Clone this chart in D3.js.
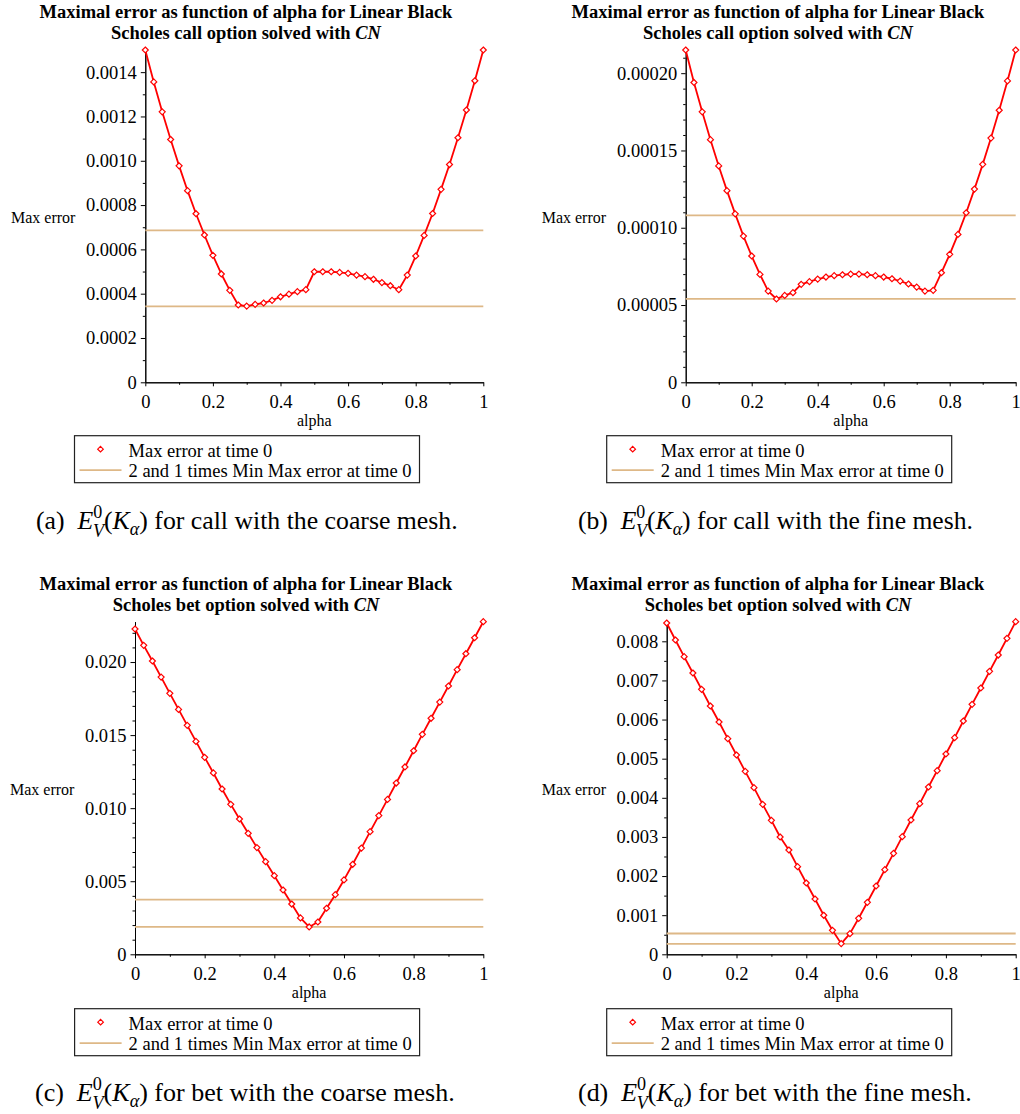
<!DOCTYPE html>
<html><head><meta charset="utf-8">
<script src="https://cdn.jsdelivr.net/npm/d3@7"></script>
<style>
body{margin:0;background:#fff}
svg{display:block}
svg text{font-family:"Liberation Serif","Times New Roman",serif;}
</style>
</head><body>
<svg id="c" width="1020" height="1114"></svg>
<script>
// ---------------- DATA ----------------
const alpha = [0,0.025,0.05,0.075,0.1,0.125,0.15,0.175,0.2,0.225,0.25,0.275,0.3,0.325,0.35,0.375,0.4,0.425,0.45,0.475,0.5,
  0.525,0.55,0.575,0.6,0.625,0.65,0.675,0.7,0.725,0.75,0.775,0.8,0.825,0.85,0.875,0.9,0.925,0.95,0.975,1];

const callCoarse = [0.0015,0.001356,0.001221,0.001096,0.000977,0.000865,0.000761,0.000665,0.000573,0.000489,0.000415,
  0.000349,0.000344,0.000352,0.000358,0.00037,0.000386,0.000398,0.000409,0.000418,0.000499,0.000499,0.000499,0.000496,
  0.000492,0.000484,0.000477,0.000465,0.00045,0.000436,0.000418,0.000484,0.00057,0.000663,0.000762,0.000871,0.000983,
  0.001104,0.001229,0.001361,0.0015];
const callFine = [0.000215,0.000194,0.000175,0.000157,0.00014,0.000124,0.000109,0.0000946,0.0000817,0.0000698,
  0.000059,0.0000539,0.0000562,0.000058,0.0000634,0.0000651,0.0000668,0.0000681,0.000069,0.0000696,
  0.00007,0.00007,0.0000696,0.000069,0.0000681,0.000067,0.0000655,0.0000636,0.0000616,0.000059,
  0.0000595,0.0000709,0.0000828,0.0000957,0.0001097,0.000125,0.000141,0.000158,0.000176,0.000195,0.000215];
const betCoarse = [0.02226,0.02114,0.02007,0.01897,0.01786,0.01676,0.01567,0.01457,0.01348,0.01241,0.01131,0.01026,
  0.00926,0.00828,0.0073,0.00634,0.00538,0.0044,0.00344,0.00249,0.00187,0.00221,0.00315,0.00408,0.00509,0.00616,
  0.00727,0.00839,0.00949,0.0106,0.01172,0.01282,0.01393,0.01505,0.01615,0.01726,0.01836,0.01948,0.02057,0.02166,0.02276];
const betFine = [0.008467,0.008033,0.007607,0.00719,0.006772,0.006346,0.005937,0.005511,0.005094,0.004676,0.004259,
  0.003833,0.003424,0.002998,0.002666,0.00224,0.001823,0.001414,0.000997,0.000613,0.000273,0.000528,0.00092,0.001329,
  0.001746,0.002164,0.002581,0.003007,0.003433,0.00385,0.004276,0.004693,0.005119,0.005537,0.005963,0.006389,0.006806,
  0.007232,0.007649,0.008075,0.008501];

// 2 and 1 times min max error
const callCoarseRef = [0.000686, 0.000343];
const callFineRef = [0.000108, 0.000054];
const betCoarseRef = [0.00374, 0.00187];
const betFineRef = [0.000532, 0.000266];

const xTicks = [0,0.2,0.4,0.6,0.8,1];
const xTickLabels = ["0","0.2","0.4","0.6","0.8","1"];
const xMinorTicks = [0.1,0.3,0.5,0.7,0.9];

const callCoarseTicks = [0,0.0002,0.0004,0.0006,0.0008,0.0010,0.0012,0.0014];
const callCoarseLabels = ["0","0.0002","0.0004","0.0006","0.0008","0.0010","0.0012","0.0014"];
const callFineTicks = [0,0.00005,0.00010,0.00015,0.00020];
const callFineLabels = ["0","0.00005","0.00010","0.00015","0.00020"];
const betCoarseTicks = [0,0.005,0.010,0.015,0.020];
const betCoarseLabels = ["0","0.005","0.010","0.015","0.020"];
const betFineTicks = [0,0.001,0.002,0.003,0.004,0.005,0.006,0.007,0.008];
const betFineLabels = ["0","0.001","0.002","0.003","0.004","0.005","0.006","0.007","0.008"];

const titleLine1 = "Maximal error as function of alpha for Linear Black";
const legendLabels = ["Max error at time 0", "2 and 1 times Min Max error at time 0"];
const yLabel = "Max error";
const xLabel = "alpha";

// ---------------- LAYOUT ----------------
const panels = [
  {kind:"call", values:callCoarse, ref:callCoarseRef, ticks:callCoarseTicks, labels:callCoarseLabels, minorStep:0.0001,
   tag:"(a)", cap:" for call with the coarse mesh.", left:145.3, right:483.3, top:50, bottom:382.3, cx:246, off:0,
   yLabX:11, legX:74.5, capX:36, capW:422},
  {kind:"call", values:callFine, ref:callFineRef, ticks:callFineTicks, labels:callFineLabels, minorStep:0.00001,
   tag:"(b)", cap:" for call with the fine mesh.", left:685.7, right:1015.7, top:50, bottom:382.3, cx:778, off:0,
   yLabX:541.7, legX:606.7, capX:578, capW:395},
  {kind:"bet", values:betCoarse, ref:betCoarseRef, ticks:betCoarseTicks, labels:betCoarseLabels, minorStep:0.001,
   tag:"(c)", cap:" for bet with the coarse mesh.", left:135, right:483.3, top:621.7, bottom:954.3, cx:246, off:572,
   yLabX:10, legX:74.6, capX:35, capW:420},
  {kind:"bet", values:betFine, ref:betFineRef, ticks:betFineTicks, labels:betFineLabels, minorStep:0.0005,
   tag:"(d)", cap:" for bet with the fine mesh.", left:666.7, right:1015.7, top:621.7, bottom:954.3, cx:778, off:572,
   yLabX:541.7, legX:606.7, capX:578, capW:394}
];

const svg = d3.select("#c");
svg.append("rect").attr("width",1020).attr("height",1114).attr("fill","#fff");
const RED = "#ff0000", TAN = "#deb887";
const diamond = r => `M0,${-r}L${r},0L0,${r}L${-r},0Z`;

panels.forEach(p => {
  const g = svg.append("g");
  const x = d3.scaleLinear().domain([0,1]).range([p.left,p.right]);
  const ymax = d3.max(p.values);
  const y = d3.scaleLinear().domain([0,ymax]).range([p.bottom,p.top]);

  // title
  g.append("text").attr("x",p.cx).attr("y",18.3+p.off).attr("text-anchor","middle")
    .attr("font-weight","bold").attr("font-size",18.5).text(titleLine1);
  const t2 = g.append("text").attr("x",p.cx).attr("y",39.3+p.off).attr("text-anchor","middle")
    .attr("font-weight","bold").attr("font-size",18.5);
  t2.append("tspan").text(`Scholes ${p.kind} option solved with `);
  t2.append("tspan").attr("font-style","italic").text("CN");

  // minor ticks
  const minorY = d3.range(0, ymax + 1e-12, p.minorStep).filter(v => !p.ticks.some(t => Math.abs(t-v) < p.minorStep*0.01) && v < ymax*0.999);
  const ax = [];
  ax.push(g.append("g").attr("transform",`translate(${p.left},0)`)
    .call(d3.axisLeft(y).tickValues(minorY).tickFormat("").tickSize(2.5).tickSizeOuter(0)));
  ax.push(g.append("g").attr("transform",`translate(0,${p.bottom})`)
    .call(d3.axisBottom(x).tickValues(xMinorTicks).tickFormat("").tickSize(2.5).tickSizeOuter(0)));
  ax.push(g.append("g").attr("transform",`translate(${p.left},0)`)
    .call(d3.axisLeft(y).tickValues(p.ticks).tickFormat((d,i)=>p.labels[i]).tickSize(4.5).tickPadding(4).tickSizeOuter(0)));
  ax.push(g.append("g").attr("transform",`translate(0,${p.bottom})`)
    .call(d3.axisBottom(x).tickValues(xTicks).tickFormat((d,i)=>xTickLabels[i]).tickSize(4).tickPadding(9).tickSizeOuter(0)));
  ax.forEach(a => {
    a.attr("font-family",null).attr("font-size",18.5);
    a.selectAll("path,line").attr("stroke","#000").attr("stroke-width",1);
    a.selectAll("text").attr("fill","#000");
  });

  // reference lines
  g.selectAll(".ref").data(p.ref).join("line")
    .attr("x1",x(0)).attr("x2",x(1)).attr("y1",d=>y(d)).attr("y2",d=>y(d))
    .attr("stroke",TAN).attr("stroke-width",1.8);

  // data line
  const pts = alpha.map((a,i)=>[a,p.values[i]]);
  g.append("path").datum(pts).attr("fill","none").attr("stroke",RED).attr("stroke-width",1.8)
    .attr("stroke-linejoin","round")
    .attr("d", d3.line().x(d=>x(d[0])).y(d=>y(d[1])));
  g.selectAll(".mk").data(pts).join("path")
    .attr("transform",d=>`translate(${x(d[0])},${y(d[1])})`)
    .attr("d",diamond(3)).attr("fill","#fff").attr("stroke",RED).attr("stroke-width",1.2);

  // axis labels
  g.append("text").attr("x",p.yLabX).attr("y",222.7+p.off).attr("font-size",16).text(yLabel);
  g.append("text").attr("x",(p.left+p.right)/2).attr("y",425.5+p.off).attr("text-anchor","middle")
    .attr("font-size",16).text(xLabel);

  // legend
  const ly = 435.7 + p.off + (p.off ? 1 : 0);
  const lg = g.append("g").attr("transform",`translate(${p.legX},${ly})`);
  lg.append("rect").attr("x",0).attr("y",0).attr("width",345).attr("height",47)
    .attr("fill","#fff").attr("stroke","#222").attr("stroke-width",1.2);
  lg.append("path").attr("transform","translate(26,13.5)").attr("d",diamond(2.8))
    .attr("fill","#fff").attr("stroke",RED).attr("stroke-width",1.2);
  lg.append("line").attr("x1",5).attr("x2",47).attr("y1",34.5).attr("y2",34.5).attr("stroke",TAN).attr("stroke-width",1.8);
  lg.selectAll(".lt").data(legendLabels).join("text").attr("x",54).attr("y",(d,i)=>21.5+i*20)
    .attr("font-size",18.5).text(d=>d);

  // caption
  const capY = p.off ? 1101 : 529;
  const cap = g.append("text").attr("x",p.capX).attr("y",capY);
  function buildCap(s) {
    cap.selectAll("*").remove();
    cap.attr("font-size",s);
    cap.append("tspan").text(p.tag + "\u2002");
    cap.append("tspan").attr("font-style","italic").text("E");
    cap.append("tspan").attr("font-size",s*0.7).attr("dy",-s*0.42).text("0");
    cap.append("tspan").attr("font-size",s*0.7).attr("font-style","italic").attr("dx",-s*0.36).attr("dy",s*0.72).text("V");
    cap.append("tspan").attr("dy",-s*0.30).text("(");
    cap.append("tspan").attr("font-style","italic").text("K");
    cap.append("tspan").attr("font-size",s*0.7).attr("font-style","italic").attr("dy",s*0.22).text("\u03b1");
    cap.append("tspan").attr("dy",-s*0.22).text(")");
    cap.append("tspan").text(p.cap);
  }
  buildCap(20);
  const w = cap.node().getBBox().width;
  buildCap(20 * p.capW / w);
});
</script>
</body></html>
